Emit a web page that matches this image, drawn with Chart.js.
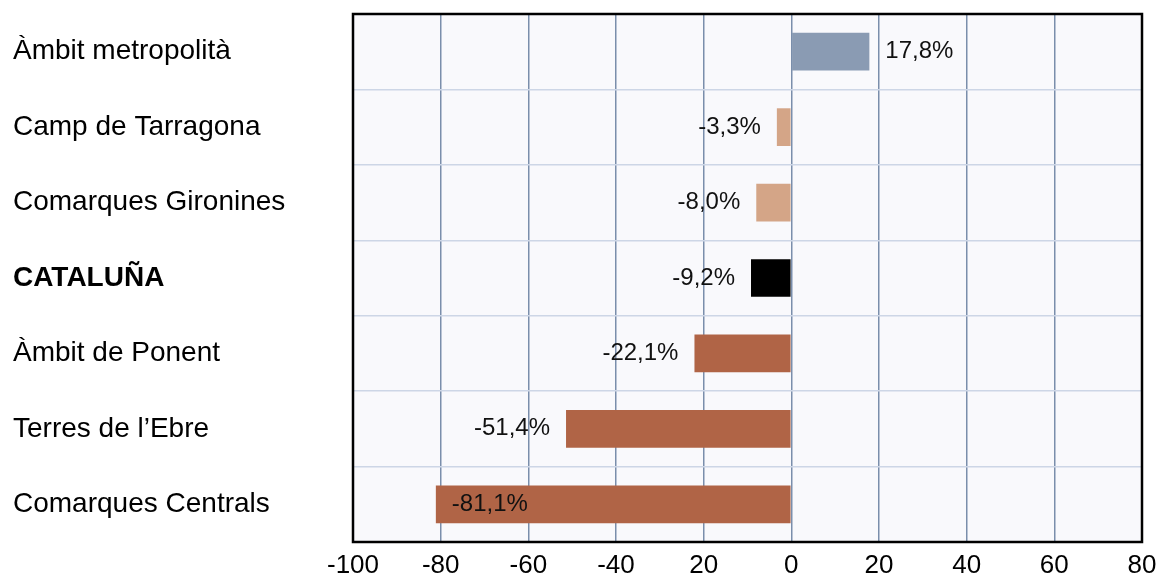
<!DOCTYPE html>
<html lang="ca">
<head>
<meta charset="UTF-8">
<title>Variació per àmbit territorial</title>
<script src="https://cdn.jsdelivr.net/npm/chart.js"></script>
<style>
  html, body { margin: 0; padding: 0; background: #ffffff; }
  #chart { display: block; }
</style>
</head>
<body>
<canvas id="chart" width="1157" height="578"></canvas>

<script>
// territories, top to bottom
const regions = [
  'Àmbit metropolità',
  'Camp de Tarragona',
  'Comarques Gironines',
  'CATALUÑA',
  'Àmbit de Ponent',
  "Terres de l’Ebre",
  'Comarques Centrals'
];
// percentage change
const changes = [17.8, -3.3, -8.0, -9.2, -22.1, -51.4, -81.1];
const barColors = ['#8a9bb3', '#d4a587', '#d4a587', '#000000', '#b06446', '#b06446', '#b06446'];
// x axis labels as printed
const xTickValues = [-100, -80, -60, -40, -20, 0, 20, 40, 60, 80];
const xTickLabels = ['-100', '-80', '-60', '-40', '20', '0', '20', '40', '60', '80'];

const FONT = "'Liberation Sans', Arial, Helvetica, sans-serif";

function fmt(v) {
  return v.toFixed(1).replace('.', ',') + '%';
}

// light panel behind the bars + black frame on top
const framePlugin = {
  id: 'frame',
  beforeDraw(chart) {
    const { ctx, chartArea: a } = chart;
    ctx.save();
    ctx.fillStyle = '#f9f9fc';
    ctx.fillRect(a.left, a.top, a.right - a.left, a.bottom - a.top);
    ctx.restore();
  },
  afterDraw(chart) {
    const { ctx, chartArea: a } = chart;
    ctx.save();
    ctx.strokeStyle = '#000';
    ctx.lineWidth = 2.5;
    ctx.strokeRect(a.left, a.top, a.right - a.left, a.bottom - a.top);
    ctx.restore();
  }
};

// value labels next to the bar ends
const valueLabels = {
  id: 'valueLabels',
  afterDatasetsDraw(chart) {
    const { ctx, chartArea: a } = chart;
    const meta = chart.getDatasetMeta(0);
    ctx.save();
    ctx.font = '24px ' + FONT;
    ctx.fillStyle = '#111';
    ctx.textBaseline = 'middle';
    meta.data.forEach((bar, i) => {
      const v = changes[i];
      const txt = fmt(v);
      const w = ctx.measureText(txt).width;
      const gap = 16;
      if (v >= 0) {
        ctx.textAlign = 'left';
        ctx.fillText(txt, bar.x + gap, bar.y);
      } else if (bar.x - gap - w < a.left + 4) {
        ctx.textAlign = 'left';
        ctx.fillText(txt, bar.x + gap, bar.y);
      } else {
        ctx.textAlign = 'right';
        ctx.fillText(txt, bar.x - gap, bar.y);
      }
    });
    ctx.restore();
  }
};

new Chart(document.getElementById('chart'), {
  type: 'bar',
  data: {
    labels: regions,
    datasets: [{
      data: changes,
      backgroundColor: barColors,
      borderWidth: 0,
      categoryPercentage: 1,
      barPercentage: 0.5
    }]
  },
  options: {
    indexAxis: 'y',
    responsive: false,
    animation: false,
    layout: { padding: { left: 13, right: 0, top: 14, bottom: 0 } },
    plugins: {
      legend: { display: false },
      tooltip: { enabled: false }
    },
    scales: {
      x: {
        min: -100,
        max: 80,
        afterBuildTicks(scale) {
          scale.ticks = xTickValues.map(v => ({ value: v }));
        },
        ticks: {
          callback: (v, i) => xTickLabels[i],
          color: '#000',
          font: { family: FONT, size: 26 },
          padding: 8,
          maxRotation: 0
        },
        grid: { color: '#7a8eab', lineWidth: 1.5, drawTicks: false },
        border: { display: false },
        afterFit(scale) {
          scale.height = 36;
          scale.paddingRight = 15;
        }
      },
      y: {
        ticks: {
          crossAlign: 'far',
          color: '#000',
          font: ctx => ({ family: FONT, size: 28, weight: ctx.index === 3 ? 'bold' : 'normal' }),
          padding: 8
        },
        grid: { color: '#cdd6e6', lineWidth: 1.5, drawTicks: false },
        border: { display: false },
        afterFit(scale) {
          scale.width = 340;
          scale.paddingTop = 0;
          scale.paddingBottom = 0;
        }
      }
    }
  },
  plugins: [framePlugin, valueLabels]
});
</script>
</body>
</html>
